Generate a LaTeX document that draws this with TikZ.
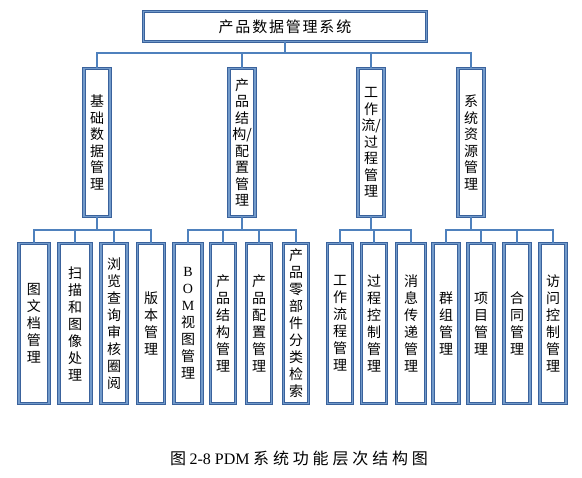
\documentclass[tikz,border=0pt]{standalone}
\usepackage{fontspec}
\setmainfont{Noto Sans CJK SC}
\newfontfamily\tnr{Liberation Serif}
\usetikzlibrary{positioning}

\definecolor{boxblue}{RGB}{79,129,189}
\definecolor{boxdark}{RGB}{58,98,156}

\begin{document}
\begin{tikzpicture}[x=1pt, y=-1pt,
	box/.style={draw=boxdark, double=boxblue!80!white, double distance=1.3pt, line width=0.95pt, fill=white, align=center, inner sep=0pt},
	midbox/.style={box, minimum width=26pt, minimum height=148pt, font=\fontsize{14}{16.5}\selectfont},
	leafbox/.style={box, minimum width=26pt, minimum height=160pt, font=\fontsize{14}{17}\selectfont},
	link/.style={draw=boxblue, line width=1.2pt}]
	\useasboundingbox (0,0) rectangle (582,478);

	% top level
	\node[box, minimum width=283pt, minimum height=30pt, font=\fontsize{15}{17}\selectfont\addfontfeature{LetterSpace=12}] (pdm) at (285,26.5) {产品数据管理系统};

	% second level
	\node[midbox] (base) at (97,142.5) {基\\础\\数\\据\\管\\理};
	\node[midbox] (prod) at (242,142.5) {产\\品\\结\\构/\\配\\置\\管\\理};
	\node[midbox] (flow) at (371,142.5) {工\\作\\流/\\过\\程\\管\\理};
	\node[midbox] (res)  at (471,142.5) {系\\统\\资\\源\\管\\理};

	% third level
	\node[leafbox, minimum width=30pt] (doc)  at (34,323.5)  {图\\文\\档\\管\\理};
	\node[leafbox, minimum width=32pt] (scan) at (75,323.5)  {扫\\描\\和\\图\\像\\处\\理};
	\node[leafbox] (view) at (114,323.5) {浏\\览\\查\\询\\审\\核\\圈\\阅};
	\node[leafbox, minimum width=27pt] (ver)  at (151,323.5) {版\\本\\管\\理};

	\node[leafbox, minimum width=28pt] (bom)  at (188,323.5) {{\tnr B}\\{\tnr O}\\{\tnr M}\\视\\图\\管\\理};
	\node[leafbox, minimum width=25pt] (pst)  at (223,323.5) {产\\品\\结\\构\\管\\理};
	\node[leafbox, minimum width=25pt] (pcf)  at (259,323.5) {产\\品\\配\\置\\管\\理};
	\node[leafbox, minimum width=25pt] (part) at (296,323.5) {产\\品\\零\\部\\件\\分\\类\\检\\索};

	\node[leafbox, minimum width=25pt] (wfm)  at (340,323.5) {工\\作\\流\\程\\管\\理};
	\node[leafbox, minimum width=25pt] (pctl) at (374,323.5) {过\\程\\控\\制\\管\\理};
	\node[leafbox, minimum width=29pt] (msg)  at (411,323.5) {消\\息\\传\\递\\管\\理};

	\node[leafbox] (grp)  at (446,323.5) {群\\组\\管\\理};
	\node[leafbox] (proj) at (481,323.5) {项\\目\\管\\理};
	\node[leafbox] (ctr)  at (517,323.5) {合\\同\\管\\理};
	\node[leafbox] (acc)  at (553,323.5) {访\\问\\控\\制\\管\\理};

	% connectors
	\foreach \c in {base,prod,flow,res}
		\draw[link] (pdm.south) -- ++(0,11) -| (\c.north);
	\foreach \c in {doc,scan,view,ver}
		\draw[link] (base.south) -- ++(0,13) -| (\c.north);
	\foreach \c in {bom,pst,pcf,part}
		\draw[link] (prod.south) -- ++(0,13) -| (\c.north);
	\foreach \c in {wfm,pctl,msg}
		\draw[link] (flow.south) -- ++(0,13) -| (\c.north);
	\foreach \c in {grp,proj,ctr,acc}
		\draw[link] (res.south) -- ++(0,13) -| (\c.north);

	% caption
	\node[font=\fontsize{16}{18}\selectfont] (cap) at (299,458)
		{图\ {\tnr 2-8 PDM}\ {\addfontfeature{LetterSpace=24}系统功能层次结构图}};
\end{tikzpicture}
\end{document}
